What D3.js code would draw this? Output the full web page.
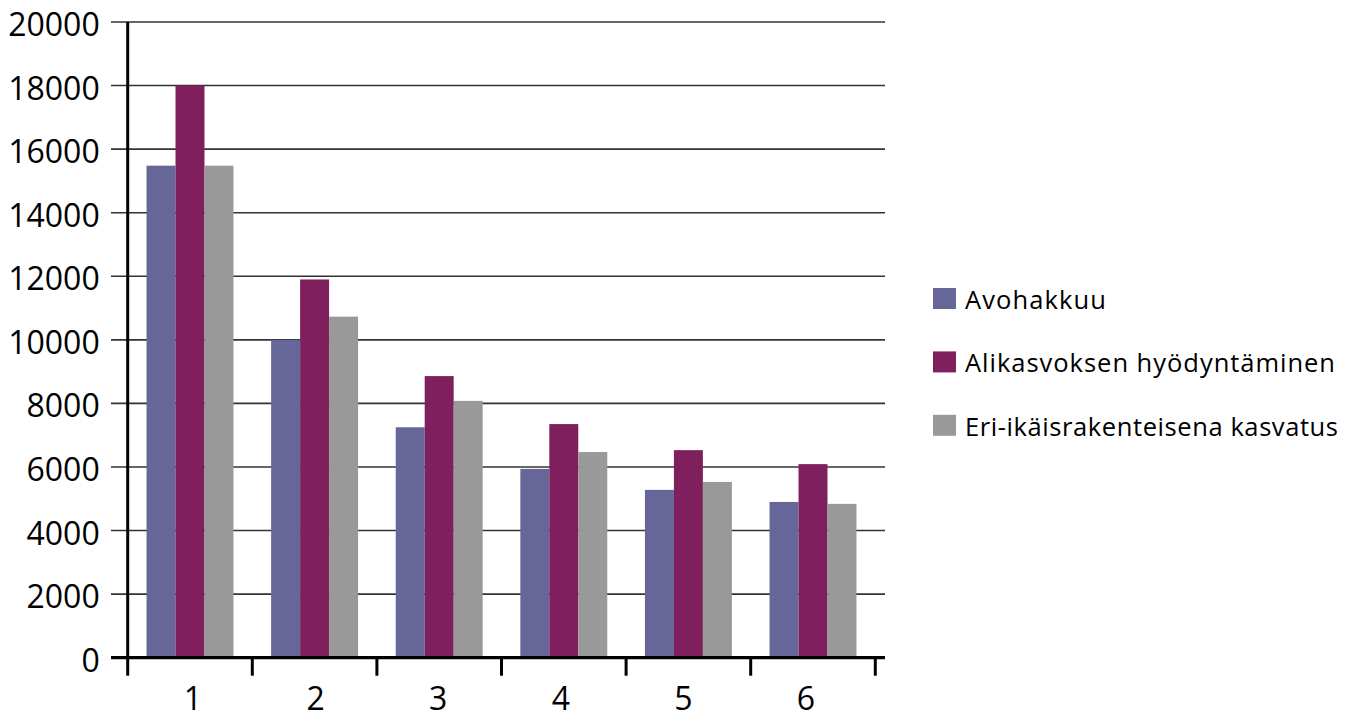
<!DOCTYPE html>
<html>
<head>
<meta charset="utf-8">
<script src="https://cdn.jsdelivr.net/npm/d3@7"></script>
<style>
  html, body { margin: 0; padding: 0; background: #fff; }
  svg { display: block; }
</style>
</head>
<body>
<svg id="chart" width="1354" height="713"></svg>
<script>
const categories = ["1", "2", "3", "4", "5", "6"];
const seriesNames = ["Avohakkuu", "Alikasvoksen hyödyntäminen", "Eri-ikäisrakenteisena kasvatus"];
const avohakkuu = [15480, 10000, 7250, 5940, 5280, 4900];
const alikasvos = [18000, 11900, 8860, 7350, 6530, 6090];
const eriIkais = [15480, 10730, 8080, 6470, 5530, 4840];
const yTicks = [0, 2000, 4000, 6000, 8000, 10000, 12000, 14000, 16000, 18000, 20000];
const colors = ["#666699", "#7f1f5e", "#999999"];

const seriesValues = [avohakkuu, alikasvos, eriIkais];

const svg = d3.select("#chart");
const x0 = 127.7, x1 = 875.3, yTop = 22, yBottom = 657.7;
const font = "'Open Sans', 'Noto Sans', sans-serif";

const x = d3.scaleBand().domain(categories).range([x0, x1]).paddingInner(0).paddingOuter(0);
const xs = d3.scaleBand().domain(d3.range(3)).range([0, x.bandwidth()]).paddingInner(0).paddingOuter(0.65);
const y = d3.scaleLinear().domain([0, 20000]).range([yBottom, yTop]);

// gridlines
svg.append("g").selectAll("line").data(yTicks).join("line")
  .attr("x1", 111).attr("x2", 885)
  .attr("y1", d => y(d)).attr("y2", d => y(d))
  .attr("stroke", "#333").attr("stroke-width", 1.6);

// bars
const groups = svg.append("g").selectAll("g").data(categories).join("g")
  .attr("transform", c => `translate(${x(c)},0)`);
groups.selectAll("rect").data((c, i) => seriesValues.map((s, j) => ({ j, v: s[i] }))).join("rect")
  .attr("x", d => xs(d.j)).attr("width", xs.bandwidth())
  .attr("y", d => y(d.v)).attr("height", d => y(0) - y(d.v))
  .attr("fill", d => colors[d.j]);

// y axis
const yAxis = svg.append("g").attr("transform", `translate(${x0},0)`)
  .call(d3.axisLeft(y).tickValues(yTicks).tickSize(0).tickPadding(28).tickFormat(d3.format("d")));
yAxis.select(".domain").attr("stroke", "#000").attr("stroke-width", 3).attr("d", `M0,${yTop}V${yBottom}`);
yAxis.selectAll("text").attr("font-family", font).attr("font-size", 32).attr("fill", "#000").attr("dy", "0.42em");

// x axis line
svg.append("line").attr("x1", 111).attr("x2", 885).attr("y1", yBottom).attr("y2", yBottom)
  .attr("stroke", "#000").attr("stroke-width", 3.2);

// x ticks at band boundaries
const bounds = categories.map(c => x(c)).concat([x1]);
svg.append("g").selectAll("line").data(bounds).join("line")
  .attr("x1", d => d).attr("x2", d => d).attr("y1", yBottom).attr("y2", yBottom + 18)
  .attr("stroke", "#000").attr("stroke-width", 3);

// x labels via axis
const xAxis = svg.append("g").attr("transform", `translate(0,${yBottom})`)
  .call(d3.axisBottom(x).tickSize(0).tickPadding(30));
xAxis.select(".domain").remove();
xAxis.selectAll("text").attr("font-family", font).attr("font-size", 32).attr("fill", "#000")
  .attr("dy", "0.71em")
  .attr("dx", (d, i) => 3 - i * 2);

// legend
const legendWidths = [141, 370, 373];
const legend = svg.append("g").selectAll("g").data(seriesNames).join("g")
  .attr("transform", (d, i) => `translate(933,${288 + i * 63.4})`);
legend.append("rect").attr("width", 23).attr("height", 21).attr("fill", (d, i) => colors[i]);
legend.append("text").attr("x", 32).attr("y", 21).text(d => d)
  .attr("font-family", font).attr("font-size", 25.5).attr("fill", "#000")
  .attr("textLength", (d, i) => legendWidths[i]).attr("lengthAdjust", "spacing");
</script>
</body>
</html>
